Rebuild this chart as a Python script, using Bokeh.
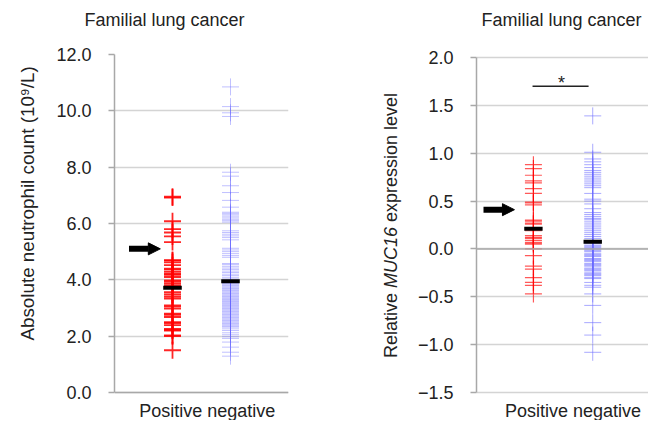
from bokeh.plotting import figure
from bokeh.models import Range1d, FixedTicker, Label, Span, Arrow, NormalHead, Title, Div
from bokeh.layouts import row
from bokeh.embed import file_html
from bokeh.resources import INLINE

FONT = "Liberation Sans"

# ---------------- data ----------------
groups = ["Positive", "negative"]
group_x = [1, 2]

anc_positive = [6.95, 6.92, 6.08, 5.80, 5.68, 5.54, 5.34,
                4.70, 4.68, 4.62, 4.52, 4.40, 4.36, 4.28, 4.21, 4.18, 4.10,
                3.98, 3.94, 3.87, 3.80, 3.74, 3.56, 3.48, 3.40, 3.33, 3.09,
                3.05, 2.98, 2.80, 2.76, 2.68, 2.50, 2.46, 2.39, 2.26, 2.22,
                2.20, 2.03, 2.00, 1.50]
anc_negative = [10.85, 10.15, 9.93, 9.80,
                7.82, 7.68, 7.34, 7.10, 6.82, 6.58,
                6.40, 6.36, 6.31, 6.26, 6.20, 6.15, 6.10, 6.05,
                5.74, 5.68, 5.62, 5.56, 5.50, 5.42,
                5.12, 5.06, 5.00, 4.93, 4.86, 4.80,
                4.58, 4.54, 4.48, 4.42, 4.37, 4.31, 4.26, 4.20, 4.15, 4.09,
                4.03, 3.98, 3.88, 3.85, 3.81, 3.78, 3.74, 3.70, 3.67, 3.63,
                3.60, 3.56, 3.52, 3.49, 3.45, 3.41, 3.38, 3.34, 3.30, 3.27,
                3.23, 3.20, 3.16, 3.12, 3.09, 3.05, 3.01, 2.98, 2.94, 2.90,
                2.87, 2.83, 2.79, 2.76, 2.72, 2.68, 2.65, 2.61, 2.57, 2.54,
                2.50, 2.46, 2.43, 2.39, 2.35, 2.32, 2.26, 2.20, 2.12, 2.05,
                1.98, 1.92, 1.79, 1.61, 1.43, 1.29]
anc_means = [3.72, 3.95]
anc_ticks = [0, 2, 4, 6, 8, 10, 12]
anc_tick_labels = ["0.0", "2.0", "4.0", "6.0", "8.0", "10.0", "12.0"]
anc_arrow_value = 5.1

muc_positive = [0.88, 0.84, 0.77, 0.71, 0.69, 0.63, 0.58, 0.49, 0.48, 0.46,
                0.30, 0.29, 0.27, 0.26, 0.19, 0.14, 0.12, 0.11, 0.09, 0.07,
                0.06, 0.05, 0.00, -0.07, -0.18, -0.21, -0.30, -0.35, -0.38,
                -0.47]
muc_negative = [1.39, 1.01, 0.94, 0.91, 0.88, 0.85,
                0.82, 0.80, 0.78, 0.76, 0.74, 0.72, 0.70, 0.68, 0.66, 0.64,
                0.58, 0.52, 0.50, 0.47, 0.42,
                0.38, 0.36, 0.34, 0.32, 0.31, 0.29, 0.27, 0.25, 0.23, 0.21,
                0.19, 0.17, 0.15, 0.13, 0.11, 0.09, 0.07, 0.06, 0.04, 0.03,
                0.02, 0.01, 0.00, -0.01, -0.02, -0.03, -0.05, -0.06, -0.07,
                -0.08, -0.10, -0.11, -0.12, -0.13, -0.15, -0.16, -0.17, -0.18,
                -0.20, -0.21, -0.22, -0.23, -0.25, -0.26, -0.27, -0.28, -0.30,
                -0.31, -0.35, -0.38, -0.40, -0.47, -0.59, -0.77, -0.90, -1.08]
muc_means = [0.21, 0.075]
muc_ticks = [-1.5, -1.0, -0.5, 0.0, 0.5, 1.0, 1.5, 2.0]
muc_tick_labels = ["\u22121.5", "\u22121.0", "\u22120.5", "0.0", "0.5", "1.0", "1.5", "2.0"]
muc_arrow_value = 0.41
muc_sig_value = 1.70

TITLE = "Familial lung cancer"
XLABEL = "Positive negative"
ANC_YLABEL = "Absolute neutrophil count (10\u2079/L)"

GRID = "#d4d4d4"
AXIS = "#a8a8a8"
TXT = "#222222"
H = 420
TOP = 54


def style_axis(p, ticks, labels):
    ax = p.yaxis[0]
    ax.ticker = FixedTicker(ticks=ticks)
    ax.bounds = (min(ticks), max(ticks))
    ax.major_label_overrides = {float(t): l for t, l in zip(ticks, labels)}
    ax.axis_line_color = AXIS
    ax.axis_line_width = 1.5
    ax.major_tick_line_color = AXIS
    ax.major_tick_line_width = 1.5
    ax.major_tick_out = 6
    ax.major_tick_in = 0
    ax.minor_tick_line_color = None
    ax.major_label_standoff = 17
    ax.major_label_text_font = FONT
    ax.major_label_text_font_size = "18px"
    ax.major_label_text_color = TXT
    p.ygrid.ticker = FixedTicker(ticks=ticks)
    p.ygrid.grid_line_color = GRID
    p.ygrid.grid_line_width = 1.3
    p.xgrid.visible = False
    p.outline_line_color = None


def add_title(p, offset):
    p.add_layout(Title(text=" ", text_font=FONT, text_font_size="17px", standoff=0), "above")
    p.add_layout(Title(text=TITLE, align="left", offset=offset, vertical_align="top", standoff=4,
                       text_font=FONT, text_font_size="18px", text_font_style="normal",
                       text_color=TXT), "above")


def lbl(p, x, y, text, align="center", size="18px"):
    p.add_layout(Label(x=x, y=y, text=text, text_font=FONT, text_font_size=size,
                       text_color=TXT, text_align=align, text_baseline="alphabetic"))


# ---------------- left panel ----------------
# frame: x 110..288 px, y: 12 -> 54px, 0 -> 392px, frame extends to canvas bottom
s1 = 338 / 12.0
p1 = figure(width=328, height=H, output_backend="svg", toolbar_location=None,
            title=None,
            x_range=Range1d(0.0, 3.0), y_range=Range1d(-(H - 392) / s1, 12),
            x_axis_location=None, min_border_left=110, min_border_right=40,
            min_border_top=TOP, min_border_bottom=0)
style_axis(p1, anc_ticks, anc_tick_labels)
p1.add_layout(Span(location=0, dimension="width", line_color=AXIS, line_width=1.5))
add_title(p1, -30)
p1.add_layout(Title(text=ANC_YLABEL, align="left", offset=H - 340, vertical_align="middle",
                    standoff=30, text_font=FONT, text_font_size="18.8px",
                    text_font_style="normal", text_color=TXT), "left")

p1.scatter(x=[group_x[1]] * len(anc_negative), y=anc_negative, marker="cross", size=17,
           line_color="#6b6bff", line_alpha=0.42, line_width=1)
p1.scatter(x=[group_x[0]] * len(anc_positive), y=anc_positive, marker="cross", size=17,
           line_color="#ff0000", line_alpha=0.85, line_width=1.8)
p1.rect(x=group_x, y=anc_means, width=0.32, height=4, height_units="screen",
        fill_color="black", line_color=None)
p1.add_layout(Arrow(x_start=0.25, y_start=anc_arrow_value, x_end=0.79, y_end=anc_arrow_value,
                    line_width=6, line_color="black",
                    end=NormalHead(size=12, fill_color="black", line_color="black")))
lbl(p1, 1.60, (392 - 410) / s1, XLABEL)

# ---------------- rotated label with italic gene name ----------------
div = Div(text=('<div style="white-space:nowrap;font-family:\'Liberation Sans\';'
                'font-size:18px;color:#222;line-height:21px;height:21px;width:max-content;'
                'transform-origin:0 0;transform:translate(53px,358px) rotate(-90deg);">'
                'Relative <i>MUC16</i> expression level</div>'),
          width=80, height=H, margin=0)

# ---------------- right panel ----------------
# frame: x 476..648 px, y: 2.0 -> 57px, -1.5 -> 392px
s2 = 335 / 3.5
x0 = 0.04
p2 = figure(width=240, height=H, output_backend="svg", toolbar_location=None,
            title=None,
            x_range=Range1d(x0, x0 + 172 / 59.3),
            y_range=Range1d(-1.5 - (H - 392) / s2, 2.0 + (57 - TOP) / s2),
            x_axis_location=None, min_border_left=68, min_border_right=0,
            min_border_top=TOP, min_border_bottom=0)
style_axis(p2, muc_ticks, muc_tick_labels)
p2.add_layout(Span(location=0, dimension="width", line_color=AXIS, line_width=1.5))
add_title(p2, 5)

p2.scatter(x=[group_x[1]] * len(muc_negative), y=muc_negative, marker="cross", size=17,
           line_color="#6b6bff", line_alpha=0.58, line_width=1)
p2.scatter(x=[group_x[0]] * len(muc_positive), y=muc_positive, marker="cross", size=17,
           line_color="#ff0000", line_alpha=0.65, line_width=1.2)
p2.rect(x=group_x, y=muc_means, width=0.31, height=4, height_units="screen",
        fill_color="black", line_color=None)
p2.add_layout(Arrow(x_start=0.158, y_start=muc_arrow_value, x_end=0.68, y_end=muc_arrow_value,
                    line_width=6, line_color="black",
                    end=NormalHead(size=12, fill_color="black", line_color="black")))
p2.segment(x0=[0.985], y0=[muc_sig_value], x1=[1.93], y1=[muc_sig_value],
           line_color="#222222", line_width=1.5)
lbl(p2, 1.473, muc_sig_value + 3 / s2, "*")
lbl(p2, 1.667, (248.4 - 410) / s2, XLABEL)

layout = row(p1, div, p2)
open("out.html", "w").write(file_html(layout, INLINE))
